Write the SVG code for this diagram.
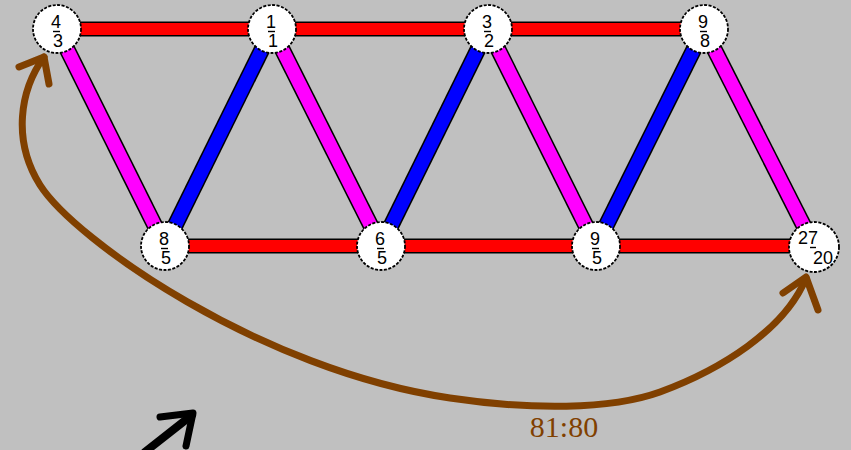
<svg xmlns="http://www.w3.org/2000/svg" width="851" height="450" viewBox="0 0 851 450">
<defs>
<style>
.o{stroke:#000;stroke-width:15;stroke-linecap:butt}
.od{stroke:#000;stroke-width:16.5;stroke-linecap:butt}
.r{stroke:#ff0000;stroke-width:12}
.m{stroke:#ff00ff;stroke-width:13.5}
.b{stroke:#0000ff;stroke-width:13.5}
.n circle{fill:#fff;stroke:#000;stroke-width:1.8;stroke-dasharray:3 1.5}
.n text{font-family:"Liberation Sans",Arial,sans-serif;font-size:18px;fill:#000;text-anchor:middle}
.n line{stroke:#000;stroke-width:1.4}
.br{fill:none;stroke:#804000;stroke-width:7;stroke-linecap:round;stroke-linejoin:round}
</style>
</defs>
<rect width="851" height="450" fill="#c0c0c0"/>
<g id="connectors">
<line class="o" x1="57" y1="29" x2="272" y2="29"/><line class="r" x1="57" y1="29" x2="272" y2="29"/>
<line class="o" x1="272" y1="29" x2="488" y2="29"/><line class="r" x1="272" y1="29" x2="488" y2="29"/>
<line class="o" x1="488" y1="29" x2="704" y2="29"/><line class="r" x1="488" y1="29" x2="704" y2="29"/>
<line class="o" x1="165" y1="246" x2="381" y2="246"/><line class="r" x1="165" y1="246" x2="381" y2="246"/>
<line class="o" x1="381" y1="246" x2="596" y2="246"/><line class="r" x1="381" y1="246" x2="596" y2="246"/>
<line class="o" x1="596" y1="246" x2="814" y2="246"/><line class="r" x1="596" y1="246" x2="814" y2="246"/>
<line class="od" x1="57" y1="29" x2="165" y2="246"/><line class="m" x1="57" y1="29" x2="165" y2="246"/>
<line class="od" x1="272" y1="29" x2="381" y2="246"/><line class="m" x1="272" y1="29" x2="381" y2="246"/>
<line class="od" x1="488" y1="29" x2="596" y2="246"/><line class="m" x1="488" y1="29" x2="596" y2="246"/>
<line class="od" x1="704" y1="29" x2="814" y2="246"/><line class="m" x1="704" y1="29" x2="814" y2="246"/>
<line class="od" x1="165" y1="246" x2="272" y2="29"/><line class="b" x1="165" y1="246" x2="272" y2="29"/>
<line class="od" x1="381" y1="246" x2="488" y2="29"/><line class="b" x1="381" y1="246" x2="488" y2="29"/>
<line class="od" x1="596" y1="246" x2="704" y2="29"/><line class="b" x1="596" y1="246" x2="704" y2="29"/>
</g>
<g id="comma">
<path class="br" d="M44,57 C20,90 12,140 40,185 C75,240 260,370 450,398 C530,410 610,410 660,392 C720,370 785,330 806,278"/>
<path class="br" d="M19,67 L44,57 L49,84"/>
<path class="br" d="M783,293 L806,277 L818,310"/>
<text x="564" y="437" font-family="'Liberation Serif','Times New Roman',serif" font-size="30" fill="#804000" text-anchor="middle">81:80</text>
</g>
<g id="arrow">
<path d="M145,452 L192,415" fill="none" stroke="#000" stroke-width="8" stroke-linecap="round"/>
<path d="M160,417 L193,413 L186,446" fill="none" stroke="#000" stroke-width="7" stroke-linecap="round" stroke-linejoin="round"/>
</g>
<g id="n43" class="n"><circle cx="57" cy="29" r="24"/><text x="56" y="28">4</text><line x1="53" y1="31.5" x2="60" y2="31.5"/><text x="58" y="47">3</text></g>
<g id="n11" class="n"><circle cx="272" cy="29" r="24"/><text x="271" y="28">1</text><line x1="268" y1="31.5" x2="275" y2="31.5"/><text x="273" y="47">1</text></g>
<g id="n32" class="n"><circle cx="488" cy="29" r="24"/><text x="487" y="28">3</text><line x1="484" y1="31.5" x2="491" y2="31.5"/><text x="489" y="47">2</text></g>
<g id="n98" class="n"><circle cx="704" cy="29" r="24"/><text x="703" y="28">9</text><line x1="700" y1="31.5" x2="707" y2="31.5"/><text x="705" y="47">8</text></g>
<g id="n85" class="n"><circle cx="165" cy="246" r="24"/><text x="164" y="245">8</text><line x1="161" y1="248.5" x2="168" y2="248.5"/><text x="166" y="264">5</text></g>
<g id="n65" class="n"><circle cx="381" cy="246" r="24"/><text x="380" y="245">6</text><line x1="377" y1="248.5" x2="384" y2="248.5"/><text x="382" y="264">5</text></g>
<g id="n95" class="n"><circle cx="596" cy="246" r="24"/><text x="595" y="245">9</text><line x1="592" y1="248.5" x2="599" y2="248.5"/><text x="597" y="264">5</text></g>
<g id="n2720" class="n"><circle cx="814" cy="247" r="25"/><text x="808" y="244">27</text><line x1="810" y1="247.5" x2="816" y2="247.5"/><text x="823" y="264">20</text></g>
</svg>
